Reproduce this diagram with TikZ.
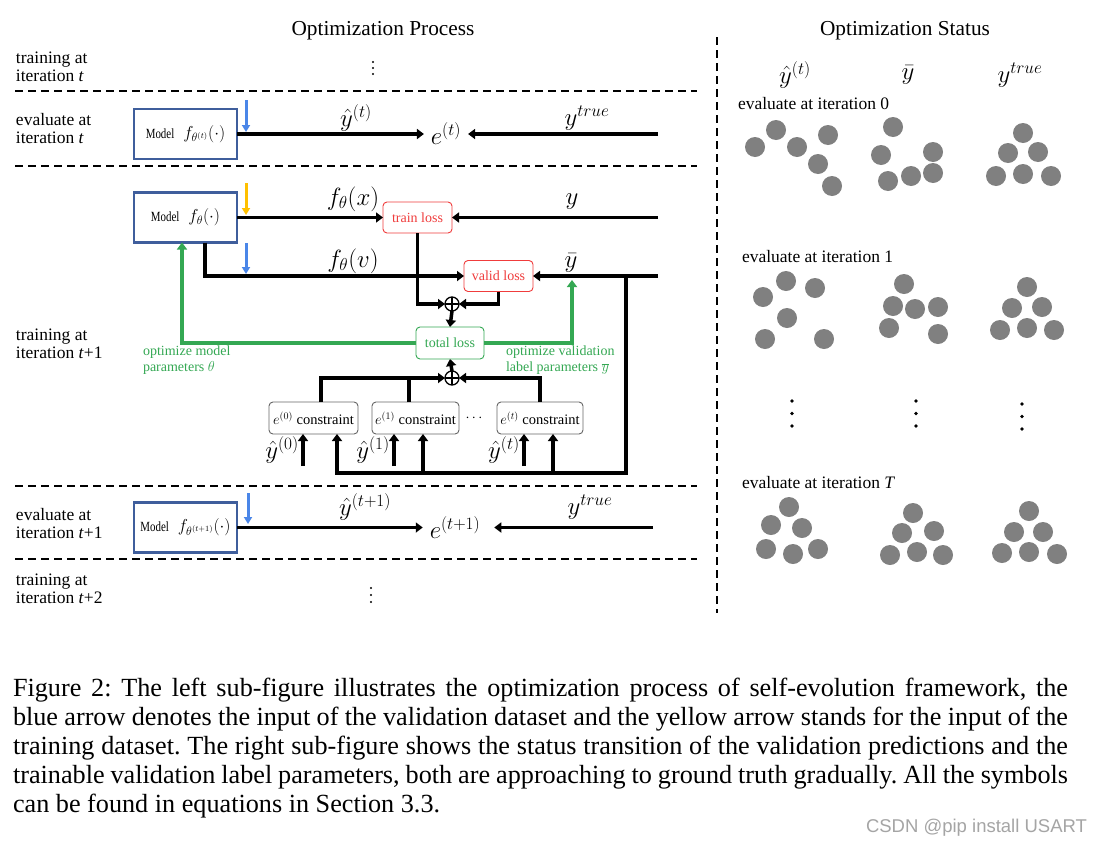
\documentclass[tikz,border=0pt]{standalone}
\usepackage{fontspec}
\usepackage{graphicx}
\setmainfont{Liberation Serif}
\newfontfamily\wmfont{Liberation Sans}
\usetikzlibrary{arrows.meta,calc}
\definecolor{mblue}{RGB}{63,94,156}
\definecolor{arrblue}{RGB}{74,134,232}
\definecolor{arryel}{RGB}{255,192,0}
\definecolor{mgreen}{RGB}{52,168,83}
\definecolor{mred}{RGB}{240,60,60}
\definecolor{dotgray}{RGB}{128,128,128}
\definecolor{wmgray}{RGB}{165,165,165}
\newcommand\mdl[1]{\scalebox{0.78}[1]{Model}\hspace{9pt}{\fontsize{17}{20}\selectfont$#1$}}
\tikzset{
 lab/.style={font=\fontsize{17.5}{18}\selectfont, align=left, anchor=west},
 modelbox/.style={draw=mblue, line width=2.5pt, minimum width=103pt, minimum height=50pt, font=\fontsize{14}{16}\selectfont},
 mathlab/.style={font=\fontsize{24}{28}\selectfont},
 smath/.style={font=\fontsize{23}{26}\selectfont},
 enode/.style={font=\fontsize{23}{26}\selectfont, inner xsep=7pt},
 blk/.style={line width=3.5pt},
 conn/.style={blk, -{Triangle[length=7pt,width=10pt]}},
 barrow/.style={draw=arrblue, line width=3pt, -{Triangle[length=7pt,width=8pt]}},
 yarrow/.style={draw=arryel, line width=3pt, -{Triangle[length=7pt,width=8pt]}},
 garrow/.style={draw=mgreen, line width=4pt, -{Triangle[length=7pt,width=10pt]}},
 lossr/.style={draw=mred, text=mred, rounded corners=4pt, line width=0.9pt, minimum width=69pt, minimum height=31pt, font=\fontsize{14}{16}\selectfont},
 lossg/.style={draw=mgreen, text=mgreen, rounded corners=4pt, line width=0.9pt, minimum width=68pt, minimum height=32pt, font=\fontsize{14}{16}\selectfont},
 cons/.style={draw=black!60, rounded corners=4pt, line width=0.9pt, minimum height=32pt, font=\fontsize{14.5}{16}\selectfont},
 plusn/.style={circle, draw, line width=1.3pt, minimum size=14pt, fill=white,
   path picture={\draw[line width=1.3pt] (path picture bounding box.north) -- (path picture bounding box.south) (path picture bounding box.west) -- (path picture bounding box.east);}},
 gtxt/.style={text=mgreen, font=\fontsize{14}{16.5}\selectfont, align=left, anchor=west},
 dline/.style={line width=1.8pt, dash pattern=on 8pt off 5pt},
 rlab/.style={font=\fontsize{17.5}{19}\selectfont, anchor=west},
 capf/.style={font=\fontsize{26.2}{29}\selectfont\frenchspacing, anchor=base west},
 ball/.style={fill=dotgray},
}
\begin{document}
\begin{tikzpicture}[x=1pt,y=-1pt, every node/.style={inner sep=0pt, outer sep=0pt}]
\fill[white] (0,0) rectangle (1102,846);
\useasboundingbox (0,0) rectangle (1102,846);

% titles
\node[font=\fontsize{21.3}{24}\selectfont] (tp) at (383,31) {Optimization Process};
\node[font=\fontsize{21.3}{24}\selectfont] (ts) at (905,31) {Optimization Status};

% separators
\draw[dline] (15,91) -- (697,91);
\draw[dline] (15,166) -- (697,166);
\draw[dline] (15,486) -- (697,486);
\draw[dline] (15,559) -- (697,559);
\draw[dline] (717,37) -- (717,613);

% left labels
\node[lab] (l1) at (16,66.5) {training at\\iteration \textit{t}};
\node[lab] (l2) at (16,129) {evaluate at\\iteration \textit{t}};
\node[lab] (l3) at (16,344) {training at\\iteration \textit{t}+1};
\node[lab] (l4) at (16,524) {evaluate at\\iteration \textit{t}+1};
\node[lab] (l5) at (16,589) {training at\\iteration \textit{t}+2};

% vertical ellipses
\foreach \y in {62,68,74} \fill (373,\y) circle (1.1);
\foreach \y in {588,595,602} \fill (371,\y) circle (1.1);

% ---------- evaluate at iteration t
\node[modelbox] (m1) at (185.5,134) {\mdl{f_{\theta^{(t)}}(\cdot)}};
\node[enode] (e1) at (446,134) {$e^{(t)}$};
\node[mathlab] (yh1) at (356,118) {$\hat{y}^{(t)}$};
\node[mathlab] (yt1) at (587,118) {$y^{true}$};
\coordinate (r1) at (658,134);
\draw[conn] (m1.east) -- (m1.east -| e1.west);
\draw[conn] (r1) -- (r1 -| e1.east);
\coordinate (b1) at (246,100);
\draw[barrow] (b1) -- ++(0,32);

% ---------- training at iteration t+1
\node[modelbox] (m2) at (185.5,217.5) {\mdl{f_\theta(\cdot)}};
\node[lossr] (tl) at (417.5,217.5) {train loss};
\node[lossr] (vl) at (498.5,276) {valid loss};
\node[lossg] (tot) at (450,343) {total loss};
\node[plusn] (p1) at (452,304) {};
\node[plusn] (p2) at (452,378) {};
\node[cons, minimum width=89pt] (c0) at (313.5,418) {$e^{(0)}$ constraint};
\node[cons, minimum width=87pt] (c1) at (415.5,418) {$e^{(1)}$ constraint};
\node[cons, minimum width=86pt] (ct) at (540,418) {$e^{(t)}$ constraint};
\node[font=\fontsize{14}{16}\selectfont] (cd) at (474,418) {$\cdots$};

\node[mathlab] (fx) at (353,199) {$f_\theta(x)$};
\node[mathlab] (fv) at (353,261) {$f_\theta(v)$};
\node[mathlab] (ylab) at (572,202) {$y$};
\node[mathlab] (yblab) at (571,263) {$\bar{y}$};

\coordinate (b2) at (246,183);
\draw[yarrow] (b2) -- ++(0,32);
\coordinate (b3) at (246,243);
\draw[barrow] (b3) -- ++(0,31);

\draw[conn] (m2.east) -- (m2.east -| tl.west);
\coordinate (ry) at (658,217.5);
\draw[conn] (ry) -- (tl.east);
\coordinate (m2b) at ($(m2.south west)+(71,0)$);
\draw[conn] (m2b) |- (vl.west);
\coordinate (rv) at (658,276);
\draw[conn] (rv) -- (vl.east);
\draw[conn] (tl.south) |- (p1.west);
\draw[conn] (vl.south) |- (p1.east);
\draw[conn] (p1.south) -- (tot.north);
\draw[conn] (p2.north) -- (tot.south);

\coordinate (c0t) at ($(c0.north)+(7.5,0)$);
\coordinate (c1t) at ($(c1.north)+(-6.5,0)$);
\draw[conn] (c0t) |- (p2.west);
\draw[blk] (c1t) -- (c1t |- p2.west);
\draw[conn] (ct.north) |- (p2.east);

% green feedback
\coordinate (m2g) at ($(m2.south west)+(48,0)$);
\draw[garrow] (tot.west) -| (m2g);
\coordinate (ybt) at (572,280);
\draw[garrow] (tot.east) -| (ybt);
\node[gtxt] (g1) at (143,360) {optimize model\\parameters $\theta$};
\node[gtxt] (g2) at (506,360) {optimize validation\\label parameters $\overline{y}$};

% inputs to constraints
\coordinate (a0) at ($(c0.south)+(23.5,0)$);
\coordinate (a1) at ($(c1.south)+(7.5,0)$);
\coordinate (a2) at ($(ct.south)+(13,0)$);
\coordinate (vr) at (626,276);
\coordinate (bl) at (626,473);
\draw[conn] (vr) -- (bl) -- (bl -| a0) -- (a0);
\draw[conn] (bl -| a1) -- (a1);
\draw[conn] (bl -| a2) -- (a2);

\coordinate (h0) at (303,466);
\coordinate (h1) at (394,466);
\coordinate (h2) at (524,466);
\draw[conn] (h0) -- (h0 |- c0.south);
\draw[conn] (h1) -- (h1 |- c1.south);
\draw[conn] (h2) -- (h2 |- ct.south);
\node[smath] (yh0) at (282,450) {$\hat{y}^{(0)}$};
\node[smath] (yh1b) at (373,450) {$\hat{y}^{(1)}$};
\node[smath] (yh2) at (504,450) {$\hat{y}^{(t)}$};

% ---------- evaluate at iteration t+1
\node[modelbox] (m3) at (185.5,527.5) {\mdl{f_{\theta^{(t+1)}}(\cdot)}};
\node[enode] (e2) at (455,527.5) {$e^{(t+1)}$};
\node[mathlab] (yh3) at (365,507) {$\hat{y}^{(t+1)}$};
\node[mathlab] (yt3) at (590,507) {$y^{true}$};
\draw[conn] (m3.east) -- (m3.east -| e2.west);
\coordinate (r3) at (653,527.5);
\draw[conn] (r3) -- ($(e2.east)+(7,0)$);
\coordinate (b4) at (248,493);
\draw[barrow] (b4) -- ++(0,31);

% ---------- right panel
\node[mathlab] (hh1) at (795,75) {$\hat{y}^{(t)}$};
\node[mathlab] (hh2) at (908,75) {$\bar{y}$};
\node[mathlab] (hh3) at (1020,75) {$y^{true}$};
\node[rlab] (ev0) at (738,104) {evaluate at iteration 0};
\node[rlab] (ev1) at (742,257) {evaluate at iteration 1};
\node[rlab] (evT) at (742,483) {evaluate at iteration \textit{T}};

\foreach \x/\y in {755/147,776/130,797/147,828/135,818/164,832/186,
  893/127,881/155,933/152,888/181,911/176,933/173,
  1023/133,1008/153,1038/152,996/176,1023/174,1051/176,
  763/297,786/281,815/288,787/318,765/339,824/339,
  904/284,893/306,915/309,938/307,889/328,938/334,
  1027/287,1012/308,1042/307,1000/330,1027/328,1054/330,
  789/507,771/525,802/528,766/549,793/554,818/549,
  913/513,902/533,934/531,890/555,917/552,943/555,
  1029/511,1014/532,1043/532,1002/553,1029/552,1057/554}
  \fill[ball] (\x,\y) circle (10);

\foreach \x/\y in {792/401,792/413.5,792/426,916/401,916/413.5,916/426,1022/404,1022/416.5,1022/429}
  \fill (\x,\y) circle (1.9);

% ---------- caption
\node[capf] (cap1) at (13,696) {\makebox[1055pt][s]{Figure 2: The left sub-figure illustrates the optimization process of self-evolution framework, the}};
\node[capf] (cap2) at (13,725) {\makebox[1055pt][s]{blue arrow denotes the input of the validation dataset and the yellow arrow stands for the input of the}};
\node[capf] (cap3) at (13,754) {\makebox[1055pt][s]{training dataset. The right sub-figure shows the status transition of the validation predictions and the}};
\node[capf] (cap4) at (13,783) {\makebox[1055pt][s]{trainable validation label parameters, both are approaching to ground truth gradually. All the symbols}};
\node[capf] (cap5) at (13,812) {can be found in equations in Section 3.3.};

\node[font=\wmfont\fontsize{18.5}{20}\selectfont, text=wmgray, anchor=base east] (wm) at (1087,832) {CSDN @pip install USART};
\end{tikzpicture}
\end{document}
